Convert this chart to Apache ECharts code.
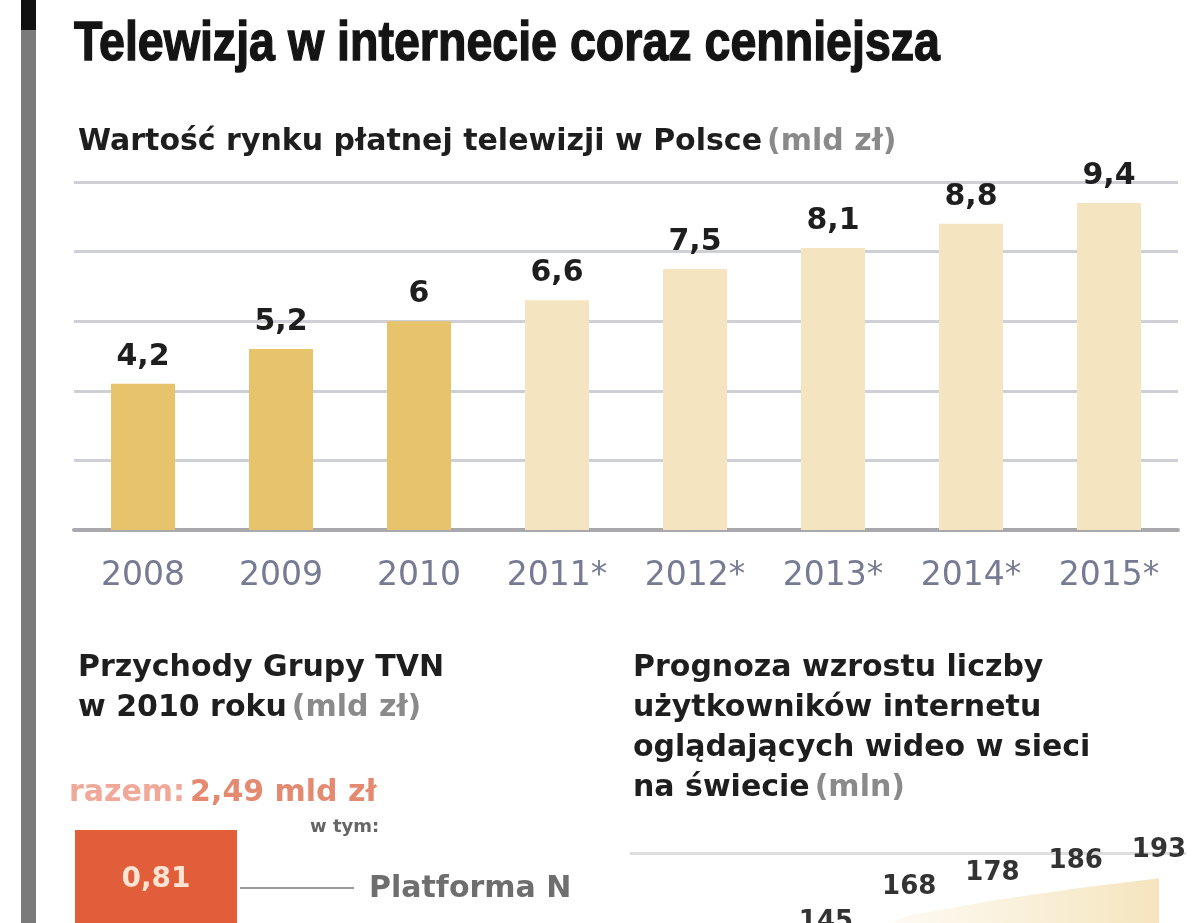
<!DOCTYPE html>
<html><head><meta charset="utf-8">
<script src="https://cdn.jsdelivr.net/npm/echarts@6/dist/echarts.min.js"></script>
<style>html,body{margin:0;padding:0;background:#fff;overflow:hidden}#c{width:1200px;height:1300px}</style>
</head><body><div id="c"></div>
<script>
// ---- data ----
const years = ['2008','2009','2010','2011*','2012*','2013*','2014*','2015*'];
const marketValues = [4.2, 5.2, 6, 6.6, 7.5, 8.1, 8.8, 9.4];
const revenueTotal = 2.49;
const revenueCategories = ['Platforma N'];
const revenueValues = [0.81];
const videoCategories = ['p1','p2','p3','p4','p5'];
const videoValues = [145, 168, 178, 186, 193];

const SANS = "'DejaVu Sans','Liberation Sans',sans-serif";
const TSANS = "'Liberation Sans','Arial',sans-serif";
const pl = v => String(v).replace('.', ',');

// condensed title: measure and squeeze to the reference width
const TITLE = 'Telewizja w internecie coraz cenniejsza';
const TITLE_FONT = "bold 56px " + TSANS;
const mctx = document.createElement('canvas').getContext('2d');
mctx.font = TITLE_FONT;
const titleScale = 866 / mctx.measureText(TITLE).width;

const bold = (size, color) => ({fontFamily:SANS, fontWeight:'bold', fontSize:size, color:color, lineHeight:40});
const norm = (size, color) => ({fontFamily:SANS, fontSize:size, color:color, lineHeight:40});

const chart = echarts.init(document.getElementById('c'), null, {renderer:'canvas'});
const option = {
  backgroundColor:'#ffffff',
  animation:false,
  title:[
    {left:73, top:117, text:'{a|Wartość rynku płatnej telewizji w Polsce} {b|(mld zł)}',
     textStyle:{rich:{a:bold(30,'#1e1e1e'), b:norm(30,'#8a8a8a')}}},
    {left:73, top:643, text:'{a|Przychody Grupy TVN}\n{a|w 2010 roku} {b|(mld zł)}',
     textStyle:{lineHeight:40, rich:{a:bold(30,'#1e1e1e'), b:norm(30,'#8a8a8a')}}},
    {left:64, top:768, text:'{a|razem:} {b|' + pl(revenueTotal) + ' mld zł}',
     textStyle:{rich:{a:norm(30,'#f0a898'), b:bold(30,'#e48a70')}}},
    {left:305, top:813, text:'w tym:',
     textStyle:{fontFamily:SANS, fontWeight:'bold', fontSize:18, color:'#666'}},
    {left:628, top:643, text:'{a|Prognoza wzrostu liczby}\n{a|użytkowników internetu}\n{a|oglądających wideo w sieci}\n{a|na świecie} {b|(mln)}',
     textStyle:{lineHeight:40, rich:{a:bold(30,'#1e1e1e'), b:norm(30,'#8a8a8a')}}}
  ],
  graphic:[
    {type:'rect', shape:{x:21, y:0, width:15, height:923}, style:{fill:'#7a7a7a'}},
    {type:'rect', shape:{x:21, y:0, width:15, height:30}, style:{fill:'#111'}},
    {type:'text', x:74, y:17, scaleX:titleScale, scaleY:1,
     style:{text:TITLE, font:TITLE_FONT, fill:'#141414', stroke:'#141414', lineWidth:1.4, textVerticalAlign:'top'}},
    {type:'line', shape:{x1:240, y1:888, x2:354, y2:888}, style:{stroke:'#9a9a9a', lineWidth:2}},
    {type:'text', x:369, y:874, style:{text:'Platforma N', font:"bold 30px "+SANS, fill:'#6e6e6e', textVerticalAlign:'top'}}
  ],
  grid:[
    {left:74, right:22, top:182, height:348},
    {left:75, width:162, top:830, height:307},
    {left:826, right:41, top:853, height:311},
    {left:630, right:14, top:853, height:311}
  ],
  xAxis:[
    {gridIndex:0, type:'category', data:years,
     axisLine:{lineStyle:{color:'#a9a9ad', width:4}}, axisTick:{show:false},
     axisLabel:{fontFamily:SANS, fontSize:33, color:'#767a92', margin:30}},
    {gridIndex:1, type:'category', data:revenueCategories, show:false},
    {gridIndex:2, type:'category', data:videoCategories, boundaryGap:false, show:false},
    {gridIndex:3, type:'category', data:videoCategories, show:false}
  ],
  yAxis:[
    {gridIndex:0, type:'value', min:0, max:10, interval:2,
     axisLabel:{show:false}, axisLine:{show:false}, axisTick:{show:false},
     splitLine:{lineStyle:{color:'#cfd0d6', width:3}}},
    {gridIndex:1, type:'value', min:0, max:revenueTotal, inverse:true, show:false},
    {gridIndex:2, type:'value', min:0, max:210, interval:70, show:false, splitLine:{show:false}},
    {gridIndex:3, type:'value', min:0, max:210, interval:70,
     axisLabel:{show:false}, axisLine:{show:false}, axisTick:{show:false},
     splitLine:{lineStyle:{color:'#dedede', width:3}}}
  ],
  series:[
    {type:'bar', xAxisIndex:0, yAxisIndex:0, barWidth:64,
     data: marketValues.map((v,i)=>({value:v, itemStyle:{color: years[i].includes('*') ? '#f4e4bf' : '#e7c36c'}})),
     label:{show:true, position:'top', distance:12, fontFamily:SANS, fontWeight:'bold', fontSize:30, color:'#1e1e1e',
            formatter:p=>pl(p.value)}},
    {type:'bar', xAxisIndex:1, yAxisIndex:1, barWidth:162, data:revenueValues,
     itemStyle:{color:'#e25e3a'},
     label:{show:true, position:'inside', fontFamily:SANS, fontWeight:'bold', fontSize:28, color:'#fde3d3',
            formatter:p=>pl(p.value)}},
    {type:'line', xAxisIndex:2, yAxisIndex:2, data:videoValues,
     symbol:'circle', symbolSize:1, showSymbol:true, itemStyle:{color:'rgba(0,0,0,0)'},
     lineStyle:{width:0},
     areaStyle:{color:new echarts.graphic.LinearGradient(0,0,1,0,[
        {offset:0, color:'rgba(243,222,170,0)'},
        {offset:0.3, color:'rgba(243,222,170,0.3)'},
        {offset:1, color:'#f1d9a2'}])},
     label:{show:true, position:'top', distance:14, fontFamily:SANS, fontWeight:'bold', fontSize:26, color:'#333'}}
  ]
};
chart.setOption(option);
</script></body></html>
